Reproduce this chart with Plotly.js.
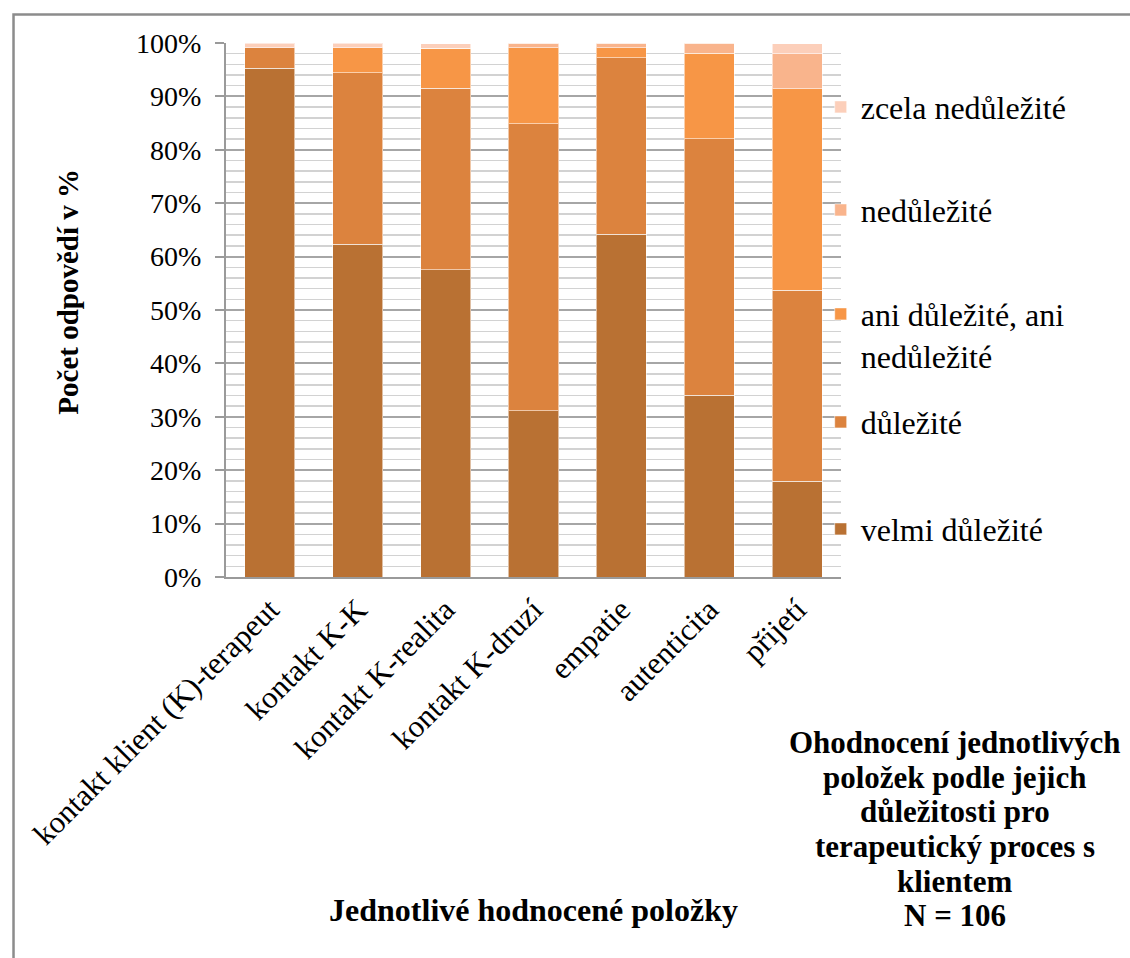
<!DOCTYPE html>
<html>
<head>
<meta charset="utf-8">
<script src="https://cdn.plot.ly/plotly-3.0.1.min.js"></script>
<style>
  html, body { margin: 0; padding: 0; background: #ffffff; }
  #chart { width: 1130px; height: 958px; }
</style>
</head>
<body>
<div id="chart"></div>
<script>
// Categories (rated items)
const categories = [
  "kontakt klient (K)-terapeut",
  "kontakt K-K",
  "kontakt K-realita",
  "kontakt K-druzí",
  "empatie",
  "autenticita",
  "přijetí"
];

// Series names
const seriesNames = [
  "velmi důležité",
  "důležité",
  "ani důležité, ani<br>nedůležité",
  "nedůležité",
  "zcela nedůležité"
];

// Values in % (N = 106)
const velmiDulezite   = [95.3, 62.3, 57.5, 31.1, 64.2, 34.0, 17.9];
const dulezite        = [3.8, 32.1, 34.0, 53.8, 33.0, 48.1, 35.8];
const aniDulezite     = [0.0, 4.7, 7.5, 14.2, 1.9, 16.0, 37.7];
const nedulezite      = [0.0, 0.0, 0.0, 0.9, 0.9, 1.9, 6.6];
const zcelaNedulezite = [0.9, 0.9, 0.9, 0.0, 0.0, 0.0, 1.9];

// Y tick labels
const yTickVals = [0, 10, 20, 30, 40, 50, 60, 70, 80, 90, 100];
const yTickText = ["0%", "10%", "20%", "30%", "40%", "50%", "60%", "70%", "80%", "90%", "100%"];

// Side title lines
const sideTitleLines = [
  "Ohodnocení jednotlivých",
  "položek podle jejich",
  "důležitosti pro",
  "terapeutický proces s",
  "klientem",
  "N = 106"
];

const seriesValues = [velmiDulezite, dulezite, aniDulezite, nedulezite, zcelaNedulezite];
const colors = ["#B97133", "#DC833E", "#F79646", "#F9B48C", "#FCCFBA"];
const legendIds = ["legend5", "legend4", "legend3", "legend2", "legend"];

const FONT = "'Liberation Serif', 'Times New Roman', serif";

const traces = seriesValues.map((vals, i) => ({
  type: "bar",
  name: seriesNames[i],
  x: categories,
  y: vals,
  legend: legendIds[i],
  marker: { color: colors[i], line: { color: "rgba(255,255,255,0.55)", width: 1 } },
  hoverinfo: "x+y+name"
}));

function legendAt(y, valign) {
  return {
    x: 0.967, xanchor: "left",
    y: y, yanchor: "middle",
    bgcolor: "rgba(0,0,0,0)",
    borderwidth: 0,
    valign: valign || "middle",
    font: { family: FONT, size: 32, color: "#000" }
  };
}

// side title: one annotation per line (positions in px from top of page)
const sideLineY = [742, 777, 811, 846, 881, 915];
const plotTop = 43, plotH = 534;
const sideAnnotations = sideTitleLines.map((t, i) => ({
  xref: "paper", yref: "paper",
  x: 1.185, y: (plotTop + plotH - sideLineY[i]) / plotH,
  xanchor: "center", yanchor: "middle",
  showarrow: false,
  text: "<b>" + t + "</b>",
  font: { family: FONT, size: 31, color: "#000" }
}));

const layout = {
  width: 1130,
  height: 958,
  paper_bgcolor: "#ffffff",
  plot_bgcolor: "#ffffff",
  margin: { l: 226, r: 289, t: 43, b: 381 },
  barmode: "stack",
  bargap: 0.43,
  font: { family: FONT, size: 28, color: "#000" },
  showlegend: true,
  legend: legendAt(0.8800),
  legend2: legendAt(0.6870),
  legend3: legendAt(0.4530, "top"),
  legend4: legendAt(0.2900),
  legend5: legendAt(0.0897),
  xaxis: {
    type: "category",
    tickangle: -45,
    tickfont: { family: FONT, size: 31, color: "#000" },
    showline: true,
    linecolor: "#9a9a9a",
    linewidth: 2,
    ticks: "",
    showgrid: false,
    automargin: false,
    title: {
      text: "<b>Jednotlivé hodnocené položky</b>",
      font: { family: FONT, size: 32, color: "#000" },
      standoff: 48
    }
  },
  yaxis: {
    range: [0, 100],
    tickvals: yTickVals,
    ticktext: yTickText,
    tickfont: { family: FONT, size: 28, color: "#000" },
    ticks: "outside",
    ticklen: 9,
    tickwidth: 2,
    tickcolor: "#9a9a9a",
    ticklabelstandoff: 8,
    showline: true,
    linecolor: "#9a9a9a",
    linewidth: 2,
    showgrid: true,
    gridcolor: "#a6a6a6",
    gridwidth: 2,
    zeroline: false,
    automargin: false,
    minor: { dtick: 2, showgrid: true, gridcolor: "#d2d2d2", gridwidth: 1.5, ticks: "" },
    title: {
      text: "&nbsp;&nbsp;&nbsp;&nbsp;&nbsp;<b>Počet odpovědí v %</b>",
      font: { family: FONT, size: 29, color: "#000" },
      standoff: 49
    }
  },
  annotations: sideAnnotations,
  shapes: [{
    type: "rect",
    xref: "paper", yref: "paper",
    x0: -0.3455, x1: 1.5, y0: -0.75, y1: 1.0535,
    line: { color: "#8c8c8c", width: 2.5 },
    fillcolor: "rgba(0,0,0,0)",
    layer: "below"
  }]
};

Plotly.newPlot("chart", traces, layout, { displayModeBar: false, staticPlot: true });
</script>
</body>
</html>
